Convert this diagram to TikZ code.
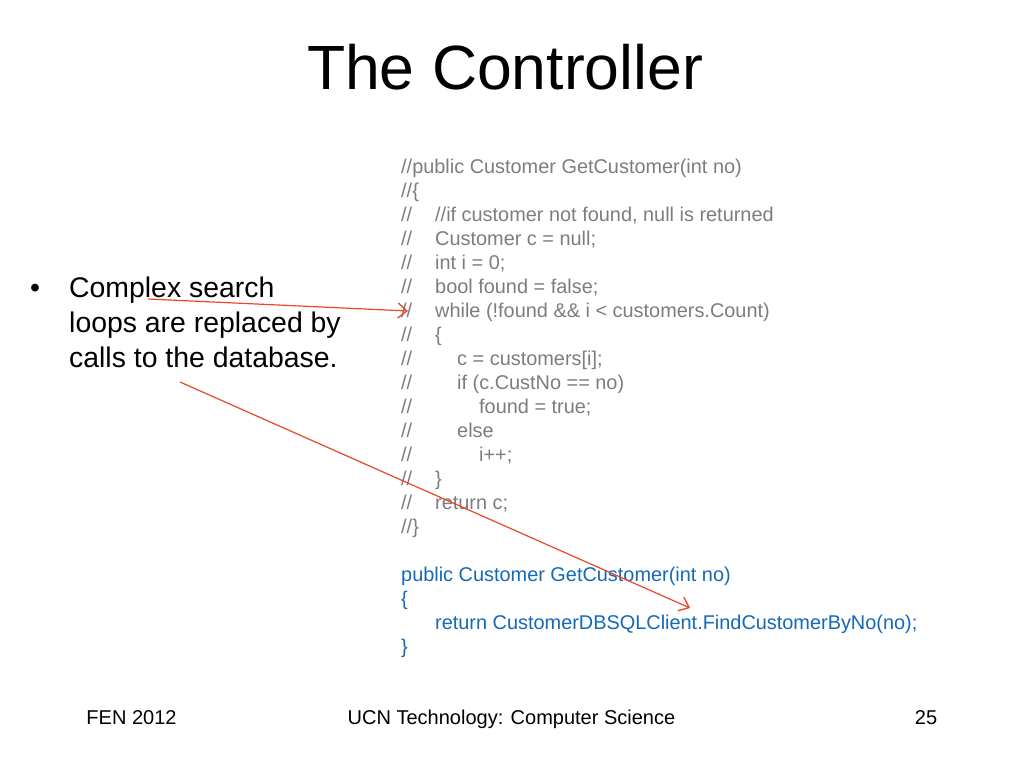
\documentclass[tikz,border=0pt]{standalone}
\usepackage{fontspec}
\setmainfont{Liberation Sans}
\usetikzlibrary{arrows.meta}
\definecolor{codegray}{RGB}{125,125,125}
\definecolor{codeblue}{RGB}{20,105,185}
\definecolor{arrred}{RGB}{232,72,40}
\begin{document}
\begin{tikzpicture}[x=1pt,y=-1pt,
  txt/.style={inner sep=0pt,anchor=base west},
  code/.style={txt,text=codegray,font=\fontsize{19.9}{24}\selectfont},
  blue/.style={txt,text=codeblue,font=\fontsize{19.9}{24}\selectfont},
  foot/.style={inner sep=0pt,anchor=base,font=\fontsize{20}{24}\selectfont},
  conn/.style={draw=arrred,line width=1.2pt,-{Straight Barb[length=9pt,width=15pt,line width=1.3pt]}}]
\useasboundingbox[fill=white] (0,0) rectangle (1024,768);
% title
\node[inner sep=0pt,anchor=base,font=\fontsize{62.5}{70}\selectfont] (title) at (505,89) {The Controller};
% bullet
\node[txt,font=\fontsize{28.4}{35}\selectfont] (bul) at (30,297) {\textbullet};
\node[txt,font=\fontsize{28.4}{35}\selectfont] (b1) at (69,297) {Complex search};
\node[txt,font=\fontsize{28.4}{35}\selectfont] (b2) at (69,332) {loops are replaced by};
\node[txt,font=\fontsize{28.4}{35}\selectfont] (b3) at (69,367) {calls to the database.};
% commented code
\node[code] (c0) at (401,173) {//public Customer GetCustomer(int no)};
\node[code] (c1) at (401,197) {//\{};
\foreach \n/\y/\x/\t in {2/221/435/{//if customer not found, null is returned},
  3/245/435/{Customer c = null;},
  4/269/435/{int i = 0;},
  5/293/435/{bool found = false;},
  6/317/435/{while (!found \&\& i < customers.Count)},
  7/341/435/{\{},
  8/365/457/{c = customers[i];},
  9/389/457/{if (c.CustNo == no)},
  10/413/479/{found = true;},
  11/437/457/{else},
  12/461/479/{i++;},
  13/485/435/{\}},
  14/509/435/{return c;}}{
  \node[code] (s\n) at (401,\y) {//};
  \node[code] (c\n) at (\x,\y) {\t};
}
\node[code] (c15) at (401,533) {//\}};
% new code
\node[blue] (d0) at (401,581) {public Customer GetCustomer(int no)};
\node[blue] (d1) at (401,605) {\{};
\node[blue] (d2) at (435,629) {return CustomerDBSQLClient.FindCustomerByNo(no);};
\node[blue] (d3) at (401,653) {\}};
% footer
\node[foot] (f1) at (131.5,724) {FEN 2012};
\node[foot] (f2) at (511.5,724) {UCN Technology: Computer Science};
\node[foot] (f3) at (926,724) {25};
% arrows
\coordinate (a1s) at (148,299);
\coordinate (a1e) at (408,311);
\coordinate (a2s) at (180,382);
\coordinate (a2e) at (690,608);
\draw[conn] (a1s) -- (a1e);
\draw[conn] (a2s) -- (a2e);
\end{tikzpicture}
\end{document}
